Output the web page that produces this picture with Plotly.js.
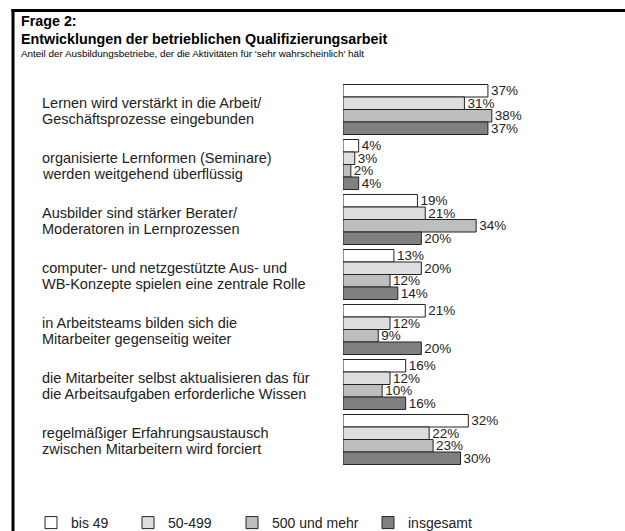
<!DOCTYPE html>
<html>
<head>
<meta charset="utf-8">
<script src="https://cdn.plot.ly/plotly-3.0.1.min.js"></script>
<style>html,body{margin:0;padding:0;background:#fff;}#chart{width:625px;height:531px;}</style>
</head>
<body>
<div id="chart"></div>
<script>
const categories = [
  "Lernen wird verstärkt in die Arbeit/<br>Geschäftsprozesse eingebunden",
  "organisierte Lernformen (Seminare)<br>werden weitgehend überflüssig",
  "Ausbilder sind stärker Berater/<br>Moderatoren in Lernprozessen",
  "computer- und netzgestützte Aus- und<br>WB-Konzepte spielen eine zentrale Rolle",
  "in Arbeitsteams bilden sich die<br>Mitarbeiter gegenseitig weiter",
  "die Mitarbeiter selbst aktualisieren das für<br>die Arbeitsaufgaben erforderliche Wissen",
  "regelmäßiger Erfahrungsaustausch<br>zwischen Mitarbeitern wird forciert"
];
const seriesNames = ["bis 49", "50-499", "500 und mehr", "insgesamt"];
const bis49 = [37, 4, 19, 13, 21, 16, 32];
const s50bis499 = [31, 3, 21, 20, 12, 12, 22];
const s500undMehr = [38, 2, 34, 12, 9, 10, 23];
const insgesamt = [37, 4, 20, 14, 20, 16, 30];
const seriesValues = [bis49, s50bis499, s500undMehr, insgesamt];
const seriesColors = ["#ffffff", "#dedede", "#bebebe", "#808080"];
const titleLine1 = "Frage 2:";
const titleLine2 = "Entwicklungen der betrieblichen Qualifizierungsarbeit";
const subtitle = "Anteil der Ausbildungsbetriebe, der die Aktivitäten für 'sehr wahrscheinlich' hält";

const W = 625, H = 531;
const M = {l: 343, r: 47, t: 82, b: 64};
const pw = W - M.l - M.r, ph = H - M.t - M.b;
const px2x = p => (p - M.l) / pw;
const py2y = p => (H - M.b - p) / ph;
const FONT = "Arial, 'Liberation Sans', sans-serif";

const legendIds = ["legend", "legend2", "legend3", "legend4"];
const legendPx = [31, 128, 232, 368];

const traces = seriesNames.map((name, i) => ({
  type: "bar",
  orientation: "h",
  name: name,
  legend: legendIds[i],
  y: categories,
  x: seriesValues[i],
  marker: {color: seriesColors[i], line: {color: "#222", width: 1}},
  text: seriesValues[i].map(v => v + "%"),
  textposition: "outside",
  constraintext: "none",
  cliponaxis: false,
  textfont: {family: FONT, size: 13.5, color: "#222"},
  hoverinfo: "skip"
}));

const annotations = [
  {text: "<b>" + titleLine1 + "</b>", x: px2x(19), y: py2y(20.5), size: 14.3},
  {text: "<b>" + titleLine2 + "</b>", x: px2x(19), y: py2y(39.5), size: 14.3},
  {text: subtitle, x: px2x(19), y: py2y(53.5), size: 9.9}
].map(a => ({
  text: a.text, xref: "paper", yref: "paper", x: a.x, y: a.y,
  xanchor: "left", yanchor: "middle", showarrow: false, align: "left",
  font: {family: FONT, size: a.size, color: "#000"}
}));

const lineShifts = [7, -9];
categories.forEach((c) => {
  c.split("<br>").forEach((line, j) => {
    annotations.push({
      text: line, xref: "paper", yref: "y", x: px2x(40), y: c, yshift: lineShifts[j],
      xanchor: "left", yanchor: "middle", showarrow: false, align: "left",
      font: {family: FONT, size: 14.5, color: "#222"}
    });
  });
});

const layout = {
  width: W, height: H,
  margin: {l: M.l, r: M.r, t: M.t, b: M.b, autoexpand: false},
  paper_bgcolor: "#fff", plot_bgcolor: "#fff",
  barmode: "group", bargap: 0.0909, bargroupgap: 0,
  font: {family: FONT, size: 12, color: "#222"},
  xaxis: {range: [0, 60], showticklabels: false, showgrid: false, zeroline: false, showline: false, ticks: ""},
  yaxis: {type: "category", range: [6.5, -0.5], showticklabels: false, showgrid: false, zeroline: false, showline: false, ticks: ""},
  showlegend: true,
  annotations: annotations,
  shapes: [
    {type: "line", xref: "paper", yref: "paper", x0: px2x(13), x1: px2x(13), y0: py2y(9), y1: py2y(535), line: {color: "#000", width: 3}},
    {type: "line", xref: "paper", yref: "paper", x0: px2x(11.5), x1: px2x(630), y0: py2y(10.5), y1: py2y(10.5), line: {color: "#000", width: 3}}
  ]
};
legendIds.forEach((id, i) => {
  layout[id] = {orientation: "h", x: px2x(legendPx[i]), y: py2y(523), xanchor: "left", yanchor: "middle",
    font: {family: FONT, size: 14, color: "#222"}, bgcolor: "rgba(0,0,0,0)"};
});

Plotly.newPlot("chart", traces, layout, {displayModeBar: false, staticPlot: true});
</script>
</body>
</html>
